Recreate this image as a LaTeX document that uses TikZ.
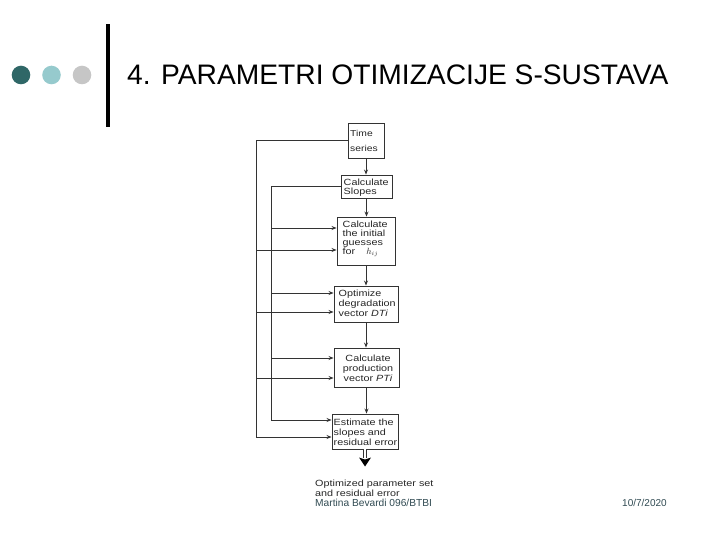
\documentclass[tikz,border=0pt]{standalone}
\usepackage{fontspec}
\setmainfont{Liberation Sans}
\newfontfamily\boxfont[FakeStretch=1.2]{Liberation Sans}
\usetikzlibrary{arrows.meta}
\definecolor{tealdark}{HTML}{2F6767}
\definecolor{teallight}{HTML}{96CACD}
\definecolor{dotgray}{HTML}{C6C6C6}
\definecolor{linec}{HTML}{333333}
\definecolor{txtc}{HTML}{262626}
\definecolor{footc}{HTML}{304A52}
\begin{document}
\begin{tikzpicture}[x=1bp,y=-1bp,
  dot/.style={circle, inner sep=0pt, minimum size=18.6bp, draw=none},
  flowbox/.style={draw=linec, line width=0.9bp, fill=white, inner sep=0pt},
  boxtext/.style={inner sep=0pt, text=txtc, align=left, font=\boxfont\fontsize{9bp}{9.8bp}\selectfont},
  link/.style={draw=linec, line width=0.8bp},
  into/.style={link, -{Stealth[length=5bp,width=4bp]}},
]
\useasboundingbox (0,0) rectangle (720,540);

% header
\node[dot, fill=tealdark]  (d1) at (21,75) {};
\node[dot, fill=teallight] (d2) at (51.5,75) {};
\node[dot, fill=dotgray]   (d3) at (82,75) {};
\fill[black] (106,24) rectangle (110,127);
\node[anchor=base west, inner sep=0pt, font=\fontsize{28.2bp}{30bp}\selectfont] (title) at (127,85)
  {4. PARAMETRI OTIMIZACIJE S-SUSTAVA};

% flow boxes
\node[flowbox, minimum width=36bp, minimum height=35bp] (ts) at (366,140.5) {};
\node[flowbox, minimum width=51bp, minimum height=23bp] (sl) at (366.5,186.5) {};
\node[flowbox, minimum width=58bp, minimum height=48bp] (ini) at (366,241) {};
\node[flowbox, minimum width=64bp, minimum height=36bp] (opt) at (366,304) {};
\node[flowbox, minimum width=65bp, minimum height=39bp] (pro) at (366.5,367.5) {};
\node[flowbox, minimum width=66bp, minimum height=35bp] (est) at (365,431.5) {};

% box texts
\node[boxtext, anchor=west, font=\boxfont\fontsize{8.6bp}{15bp}\selectfont] (ts-t) at (350,141) {Time\\series};
\node[boxtext, anchor=west, font=\boxfont\fontsize{9bp}{8.8bp}\selectfont] (sl-t) at (343.5,188) {Calculate\\Slopes};
\node[boxtext, anchor=west, font=\boxfont\fontsize{9bp}{8.9bp}\selectfont] (ini-t) at (342.5,238.5)
  {Calculate\\the initial\\guesses\\for\hspace{11bp}$h_{ij}$};
\node[boxtext, anchor=west] (opt-t) at (338.5,303.5)
  {Optimize\\degradation\\vector {\itshape DTi}};
\node[boxtext, align=center] (pro-t) at (368,368)
  {Calculate\\production\\vector {\itshape PTi}};
\node[boxtext, anchor=west] (est-t) at (333.5,432.5)
  {Estimate the\\slopes and\\residual error};

% main chain
\draw[into] (ts.south) -- (ts.south |- sl.north);
\draw[into] (sl.south) -- (sl.south |- ini.north);
\draw[into] (ini.south) -- (ini.south |- opt.north);
\draw[into] (opt.south) -- (opt.south |- pro.north);
\draw[into] (pro.south) -- (pro.south |- est.north);

% feedback lines
\coordinate (o1) at (256,250);
\coordinate (o2) at (256,312);
\coordinate (o3) at (256,378);
\coordinate (o4) at (256,437);
\coordinate (i1) at (271,228);
\coordinate (i2) at (271,293);
\coordinate (i3) at (271,358);
\coordinate (i4) at (271,420);
\draw[link] (ts.west) -| (o4);
\draw[link] (sl.west) -| (i4);
\draw[into] (o1) -- (o1 -| ini.west);
\draw[into] (o2) -- (o2 -| opt.west);
\draw[into] (o3) -- (o3 -| pro.west);
\draw[into] (o4) -- (o4 -| est.west);
\draw[into] (i1) -- (i1 -| ini.west);
\draw[into] (i2) -- (i2 -| opt.west);
\draw[into] (i3) -- (i3 -| pro.west);
\draw[into] (i4) -- (i4 -| est.west);

% output arrow
\coordinate (outEnd) at (365,458);
\draw[linec, line width=0.8bp, double=white, double distance=1.8bp] (est.south) -- (outEnd);
\fill[black] (outEnd) ++(-6,-0.5) -- ++(6,2) -- ++(6,-2) -- ++(-6,9) -- cycle;

\node[boxtext, anchor=west, font=\boxfont\fontsize{9bp}{10.5bp}\selectfont] (res) at (315,488.5)
  {Optimized parameter set\\and residual error};

% footer
\node[anchor=west, inner sep=0pt, text=footc, font=\fontsize{10.2bp}{12bp}\selectfont] (foot) at (315,502.5)
  {Martina Bevardi 096/BTBI};
\node[anchor=west, inner sep=0pt, text=footc, font=\fontsize{10bp}{12bp}\selectfont] (date) at (622,503)
  {10/7/2020};
\end{tikzpicture}
\end{document}
